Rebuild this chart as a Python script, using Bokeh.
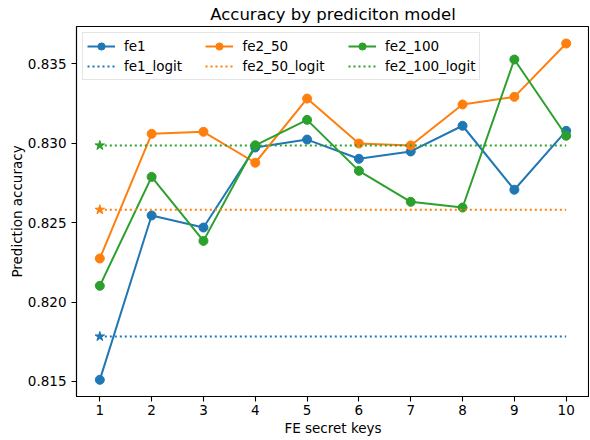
from bokeh.plotting import figure
from bokeh.models import FixedTicker, NumeralTickFormatter, Legend, LegendItem
from bokeh.embed import file_html
from bokeh.resources import INLINE

# ---- data ----
keys = [1, 2, 3, 4, 5, 6, 7, 8, 9, 10]
fe1 = [0.8151, 0.82545, 0.82469, 0.82973, 0.83023, 0.82902, 0.82948, 0.83110, 0.82707, 0.83078]
fe2_50 = [0.82274, 0.83059, 0.83072, 0.82877, 0.83281, 0.82998, 0.82986, 0.83244, 0.83292, 0.83628]
fe2_100 = [0.82102, 0.82788, 0.82385, 0.82987, 0.83147, 0.82826, 0.82631, 0.82595, 0.83527, 0.83047]
fe1_logit = 0.81783
fe2_50_logit = 0.82581
fe2_100_logit = 0.82986
y_ticks = [0.815, 0.820, 0.825, 0.830, 0.835]

series = [("fe1", fe1, fe1_logit, "#1f77b4"),
          ("fe2_50", fe2_50, fe2_50_logit, "#ff7f0e"),
          ("fe2_100", fe2_100, fe2_100_logit, "#2ca02c")]

FONT = "DejaVu Sans"

p = figure(frame_width=513, frame_height=370, output_backend="svg", toolbar_location=None,
           x_range=(0.55, 10.45), y_range=(0.81405, 0.83735),
           title="Accuracy by prediciton model")
p.min_border_left = 76
p.min_border_right = 0
p.min_border_top = 19
p.min_border_bottom = 43

p.title.align = "center"
p.title.text_font = FONT
p.title.text_font_size = "16.5px"
p.title.text_font_style = "normal"
p.title.text_color = "black"
p.title.standoff = 5

p.xgrid.visible = False
p.ygrid.visible = False
p.outline_line_color = "black"
p.outline_line_width = 1.1
p.background_fill_color = "white"
p.border_fill_color = "white"

for ax in (p.xaxis[0], p.yaxis[0]):
    ax.axis_line_color = "black"
    ax.axis_line_width = 1.1
    ax.major_tick_line_color = "black"
    ax.major_tick_line_width = 1.1
    ax.major_tick_out = 5
    ax.major_tick_in = 0
    ax.minor_tick_out = 0
    ax.minor_tick_in = 0
    ax.major_label_text_font = FONT
    ax.major_label_text_font_size = "13.5px"
    ax.major_label_text_color = "black"
    ax.axis_label_text_font = FONT
    ax.axis_label_text_font_size = "13.5px"
    ax.axis_label_text_font_style = "normal"
    ax.axis_label_text_color = "black"

p.xaxis.ticker = FixedTicker(ticks=keys)
p.xaxis.axis_label = "FE secret keys"
p.xaxis.major_label_standoff = 3
p.xaxis.axis_label_standoff = 2
p.yaxis.ticker = FixedTicker(ticks=y_ticks)
p.yaxis.formatter = NumeralTickFormatter(format="0.000")
p.yaxis.axis_label = "Prediction accuracy"
p.yaxis.major_label_standoff = 5
p.yaxis.axis_label_standoff = 0

items_main = []
items_logit = []
for name, vals, logit, color in series:
    ln = p.line(keys, vals, line_color=color, line_width=2)
    sc = p.scatter(keys, vals, marker="circle", size=9, fill_color=color, line_color=color)
    items_main.append(LegendItem(label=name, renderers=[ln, sc]))
pads = ["     ", "     ", ""]
for (name, vals, logit, color), pad in zip(series, pads):
    dl = p.line([keys[0], keys[-1]], [logit, logit], line_color=color, line_width=2,
                line_dash="2 3")
    p.scatter([keys[0]], [logit], marker="star", size=10, fill_color=color, line_color=color)
    items_logit.append(LegendItem(label=name + "_logit" + pad, renderers=[dl]))

items = []
for a, b in zip(items_main, items_logit):
    items.extend([a, b])

legend = Legend(items=items, location="top_left", orientation="vertical", nrows=2)
legend.label_text_font = FONT
legend.label_text_font_size = "13.5px"
legend.label_text_color = "black"
legend.border_line_color = "#cccccc"
legend.border_line_width = 1
legend.background_fill_alpha = 0.8
legend.margin = 6
legend.padding = 4
legend.spacing = 2
legend.glyph_width = 28
legend.label_standoff = 9
legend.label_height = 18
legend.glyph_height = 18
p.add_layout(legend)

open("out.html", "w").write(file_html(p, INLINE))
